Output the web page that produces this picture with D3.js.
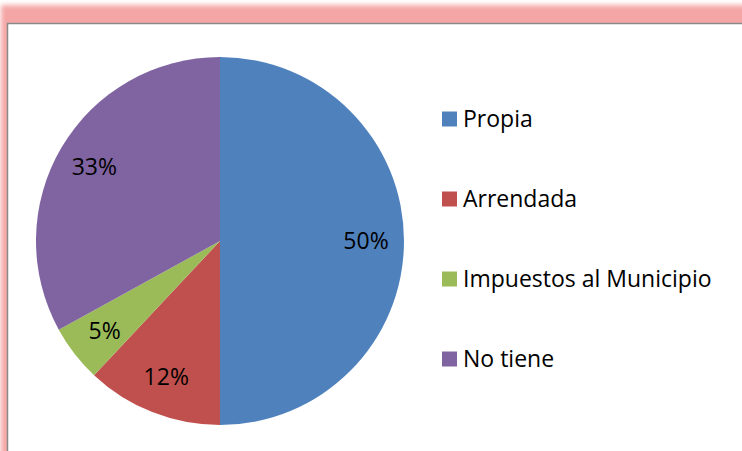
<!DOCTYPE html>
<html>
<head>
<meta charset="utf-8">
<script src="https://cdn.jsdelivr.net/npm/d3@7"></script>
<style>
  body { margin: 0; background: #fff; }
  svg { display: block; }
  text { font-family: "Open Sans", Lato, sans-serif; }
</style>
</head>
<body>
<script>
let width = 742,
  height = 451

let categories = ['Propia', 'Arrendada', 'Impuestos al Municipio', 'No tiene']
let values = [50, 12, 5, 33]
let colors = ['#4F81BD', '#C0504D', '#9BBB59', '#8064A2']

let cx = 220,
  cy = 241,
  radius = 184,
  labelRadius = 146

let svg = d3.select('body').append('svg')
  .attr('width', width)
  .attr('height', height)

// pink glow frame behind the chart area
let defs = svg.append('defs')
defs.append('filter')
  .attr('id', 'glow')
  .attr('x', '-10%').attr('y', '-10%')
  .attr('width', '120%').attr('height', '120%')
  .append('feGaussianBlur')
  .attr('stdDeviation', 2.5)

svg.append('rect')
  .attr('x', 1)
  .attr('y', 5)
  .attr('width', width + 20)
  .attr('height', height + 20)
  .attr('fill', '#f4a6a6')
  .attr('filter', 'url(#glow)')

svg.append('rect')
  .attr('x', 7.5)
  .attr('y', 23.5)
  .attr('width', width + 20)
  .attr('height', height + 20)
  .attr('fill', '#fff')
  .attr('stroke', '#8a8a8a')
  .attr('stroke-width', 1.5)

let color = d3.scaleOrdinal()
  .domain(categories)
  .range(colors)

let pie = d3.pie()
  .sort(null)
  .value(d => d.value)

let data = categories.map((c, i) => ({ name: c, value: values[i] }))
let arcs = pie(data)

let arc = d3.arc()
  .innerRadius(0)
  .outerRadius(radius)

let labelArc = d3.arc()
  .innerRadius(labelRadius)
  .outerRadius(labelRadius)

let pieG = svg.append('g')
  .attr('class', 'pie')
  .attr('transform', `translate(${cx},${cy})`)

pieG.selectAll('path')
  .data(arcs)
  .enter().append('path')
  .attr('d', arc)
  .attr('fill', d => color(d.data.name))

let total = d3.sum(values)
pieG.selectAll('.slice-label')
  .data(arcs)
  .enter().append('text')
  .attr('class', 'slice-label')
  .attr('transform', d => `translate(${labelArc.centroid(d)})`)
  .attr('text-anchor', 'middle')
  .attr('dy', '0.36em')
  .attr('font-size', 23)
  .attr('fill', '#000')
  .text(d => Math.round(d.data.value / total * 100) + '%')

let legendY = d3.scalePoint()
  .domain(categories)
  .range([119, 359])

let legend = svg.append('g')
  .attr('class', 'legend')
  .selectAll('g')
  .data(categories)
  .enter().append('g')
  .attr('transform', d => `translate(442,${legendY(d)})`)

legend.append('rect')
  .attr('x', 0)
  .attr('y', -7.5)
  .attr('width', 15)
  .attr('height', 15)
  .attr('fill', d => color(d))

legend.append('text')
  .attr('x', 21)
  .attr('dy', '0.36em')
  .attr('font-size', 23)
  .attr('fill', '#000')
  .text(d => d)
</script>
</body>
</html>
